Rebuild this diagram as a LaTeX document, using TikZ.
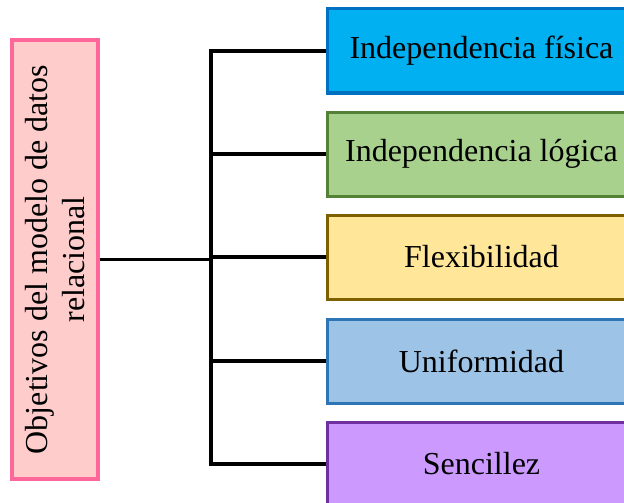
\documentclass[tikz,border=0pt]{standalone}
\usepackage{fontspec}
\setmainfont{Liberation Serif}
\definecolor{pinkfill}{HTML}{FFCCCC}
\definecolor{pinkline}{HTML}{FF6699}
\definecolor{bluefill}{HTML}{00B0F0}
\definecolor{blueline}{HTML}{0070C0}
\definecolor{greenfill}{HTML}{A9D18E}
\definecolor{greenline}{HTML}{538135}
\definecolor{yellowfill}{HTML}{FFE699}
\definecolor{yellowline}{HTML}{7F6000}
\definecolor{skyfill}{HTML}{9DC3E6}
\definecolor{skyline}{HTML}{2E75B6}
\definecolor{purplefill}{HTML}{CC99FF}
\definecolor{purpleline}{HTML}{7030A0}
\tikzset{
  goal/.style={line width=3pt, minimum width=340pt, minimum height=84pt, inner sep=0pt,
               anchor=west, execute at begin node=\hspace*{-32pt}},
  conn/.style={line width=3.8pt, black}
}
\begin{document}
\begin{tikzpicture}[x=1pt, y=-1pt, font=\fontsize{32}{37}\selectfont]
		\useasboundingbox (0,0) rectangle (624,503);
		\clip (0,0) rectangle (624,503);
		\fill[white] (0,0) rectangle (624,503);

		\node[draw=pinkline, fill=pinkfill, line width=3.2pt, rotate=90, align=center,
		      minimum width=439pt, minimum height=86pt, inner sep=0pt] (obj) at (55,259.5)
		      {Objetivos del modelo de datos\\relacional};

		% boxes run past the right edge
		\node[goal, draw=blueline, fill=bluefill] (fisica) at (326,51) {Independencia física};
		\node[goal, draw=greenline, fill=greenfill] (logica) at (326,154) {Independencia lógica};
		\node[goal, draw=yellowline, fill=yellowfill] (flex) at (326,257) {Flexibilidad};
		\node[goal, draw=skyline, fill=skyfill] (unif) at (326,361) {Uniformidad};
		\node[goal, draw=purpleline, fill=purplefill] (senc) at (326,464) {Sencillez};

		\coordinate (bus) at (211,259.5);

		\draw[conn] (obj.south) -- (bus);
		\draw[conn] (fisica.west) -- (bus |- fisica) -- (bus |- senc) -- (senc.west);
		\draw[conn] (bus |- logica) -- (logica.west);
		\draw[conn] (bus |- flex) -- (flex.west);
		\draw[conn] (bus |- unif) -- (unif.west);
	\end{tikzpicture}
\end{document}
